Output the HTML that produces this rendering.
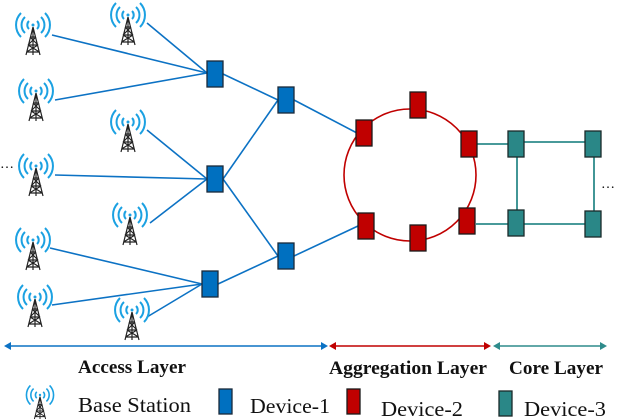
<!DOCTYPE html>
<html><head><style>body{margin:0;background:#fff}svg{display:block}</style></head><body>
<svg width="618" height="420" viewBox="0 0 618 420" xmlns="http://www.w3.org/2000/svg">
<defs>
<g id="tw">
<g fill="none" stroke="#1ba1e2" stroke-width="2">
<path d="M-4,-4 A5.5,5.5 0 0 0 -4,4 M4,-4 A5.5,5.5 0 0 1 4,4"/>
<path d="M-8,-8 A11,11 0 0 0 -8,8 M8,-8 A11,11 0 0 1 8,8"/>
<path d="M-12,-12 A17,17 0 0 0 -12,12 M12,-12 A17,17 0 0 1 12,12"/>
</g>
<circle cx="0" cy="0" r="1.5" fill="#1ba1e2"/>
<g fill="none" stroke="#222" stroke-width="1.2">
<path d="M0,2 L-7,30 M0,2 L7,30 M0,2 L0,30 M-3,12 L3,12 M-5,20 L5,20 M-6.5,27 L6.5,27 M-3,12 L5,20 M3,12 L-5,20 M-5,20 L6.5,27 M5,20 L-6.5,27"/>
</g>
</g>
</defs>
<g stroke="#0c72c4" stroke-width="1.6" fill="none">
<line x1="52" y1="35" x2="207" y2="73"/>
<line x1="147" y1="23" x2="207" y2="73"/>
<line x1="55" y1="100" x2="207" y2="73"/>
<line x1="147" y1="130" x2="207" y2="179"/>
<line x1="55" y1="175" x2="207" y2="179"/>
<line x1="150" y1="223" x2="207" y2="179"/>
<line x1="50" y1="248" x2="202" y2="284"/>
<line x1="52" y1="305" x2="202" y2="284"/>
<line x1="147" y1="317" x2="202" y2="284"/>
<line x1="223" y1="74" x2="278" y2="100"/>
<line x1="223" y1="179" x2="278" y2="100"/>
<line x1="223" y1="179" x2="278" y2="256"/>
<line x1="218" y1="284" x2="278" y2="256"/>
<line x1="294" y1="100" x2="357" y2="133"/>
<line x1="294" y1="256" x2="358" y2="226"/>
</g>
<use href="#tw" x="33" y="25"/>
<use href="#tw" x="128" y="15"/>
<use href="#tw" x="36" y="91"/>
<use href="#tw" x="128" y="122"/>
<use href="#tw" x="36" y="166"/>
<use href="#tw" x="130" y="215"/>
<use href="#tw" x="33" y="240"/>
<use href="#tw" x="35" y="297"/>
<use href="#tw" x="132" y="310"/>
<text x="0" y="168" font-family="Liberation Serif" font-size="14" fill="#000">…</text>
<circle cx="410" cy="175" r="66" fill="none" stroke="#c00000" stroke-width="1.6"/>
<g stroke="#2e8b8b" stroke-width="1.8" fill="none">
<line x1="477" y1="144" x2="508" y2="144"/>
<line x1="524" y1="142" x2="585" y2="142"/>
<line x1="517" y1="157" x2="517" y2="210"/>
<line x1="594" y1="157" x2="594" y2="211"/>
<line x1="476" y1="224" x2="508" y2="224"/>
<line x1="524" y1="224" x2="585" y2="224"/>
</g>
<text x="601" y="188" font-family="Liberation Serif" font-size="14" fill="#000">…</text>
<g fill="#0070c0" stroke="#1a2a3a" stroke-width="1.3">
<rect x="207" y="61" width="16" height="26"/>
<rect x="278" y="87" width="16" height="26"/>
<rect x="207" y="166" width="16" height="26"/>
<rect x="278" y="243" width="16" height="26"/>
<rect x="202" y="271" width="16" height="26"/>
</g>
<g fill="#c00000" stroke="#1a1a1a" stroke-width="1.3">
<rect x="356" y="120" width="16" height="26"/>
<rect x="410" y="92" width="16" height="26"/>
<rect x="461" y="131" width="16" height="26"/>
<rect x="358" y="213" width="16" height="26"/>
<rect x="410" y="225" width="16" height="26"/>
<rect x="459" y="208" width="16" height="26"/>
</g>
<g fill="#2a8787" stroke="#1a2a2a" stroke-width="1.3">
<rect x="508" y="131" width="16" height="26"/>
<rect x="585" y="131" width="16" height="26"/>
<rect x="508" y="210" width="16" height="26"/>
<rect x="585" y="211" width="16" height="26"/>
</g>
<g stroke-width="1.6">
<line x1="8" y1="346" x2="324" y2="346" stroke="#0c72c4"/>
<path d="M4,346 L11,342 L11,350Z M328,346 L321,342 L321,350Z" fill="#0c72c4"/>
<line x1="333" y1="346" x2="488" y2="346" stroke="#c00000"/>
<path d="M329,346 L336,342 L336,350Z M491,346 L484,342 L484,350Z" fill="#c00000"/>
<line x1="497" y1="346" x2="603" y2="346" stroke="#2e8b8b"/>
<path d="M493,346 L500,342 L500,350Z M607,346 L600,342 L600,350Z" fill="#2e8b8b"/>
</g>
<g font-family="Liberation Serif" font-weight="bold" font-size="19" fill="#111">
<text x="78" y="373" textLength="108" lengthAdjust="spacingAndGlyphs">Access Layer</text>
<text x="329" y="374" textLength="158" lengthAdjust="spacingAndGlyphs">Aggregation Layer</text>
<text x="509" y="374" textLength="94" lengthAdjust="spacingAndGlyphs">Core Layer</text>
</g>
<use href="#tw" x="40" y="395" transform="translate(40,395) scale(0.8) translate(-40,-395)"/>
<g font-family="Liberation Serif" font-size="21" fill="#111">
<text x="78" y="412" textLength="113" lengthAdjust="spacingAndGlyphs">Base Station</text>
<text x="250" y="413" textLength="80" lengthAdjust="spacingAndGlyphs">Device-1</text>
<text x="381" y="416" textLength="82" lengthAdjust="spacingAndGlyphs">Device-2</text>
<text x="524" y="416" textLength="82" lengthAdjust="spacingAndGlyphs">Device-3</text>
</g>
<rect x="219" y="389" width="13" height="25" fill="#0070c0" stroke="#1a2a3a" stroke-width="1.3"/>
<rect x="347" y="389" width="13" height="25" fill="#c00000" stroke="#1a1a1a" stroke-width="1.3"/>
<rect x="499" y="391" width="13" height="25" fill="#2a8787" stroke="#1a2a2a" stroke-width="1.3"/>
</svg>
</body></html>
